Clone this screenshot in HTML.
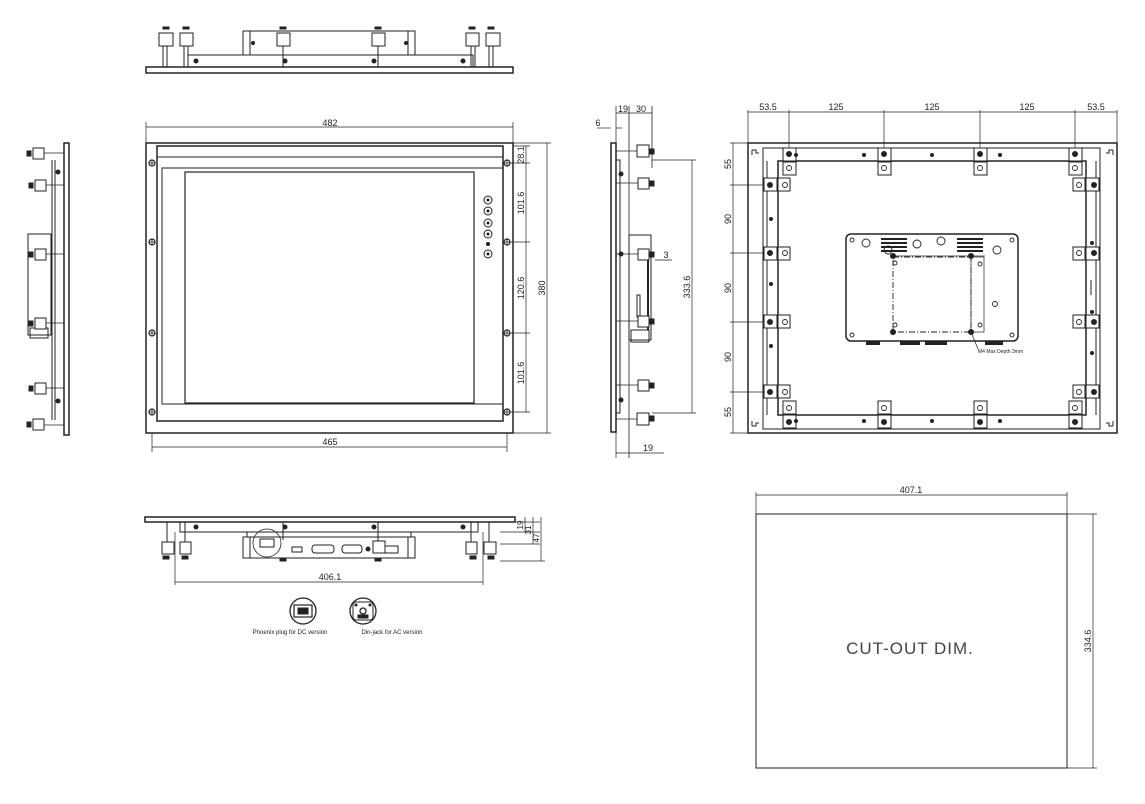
<!DOCTYPE html>
<html><head><meta charset="utf-8"><style>
html,body{margin:0;padding:0;background:#fff;}
svg{display:block;}
text{font-family:"Liberation Sans",sans-serif;font-size:9px;fill:#222;stroke:none;}
</style></head><body>
<svg width="1145" height="804" viewBox="0 0 1145 804" xmlns="http://www.w3.org/2000/svg" stroke="#222" fill="none" stroke-width="1">

<!-- ===== TOP VIEW ===== -->
<rect x="146" y="67" width="367" height="6" stroke-width="1.5"/>
<rect x="188" y="55" width="285" height="12"/>
<rect x="243" y="31" width="172" height="24"/>
<line x1="250" y1="31" x2="250" y2="55"/><line x1="408" y1="31" x2="408" y2="55"/>
<g fill="#222"><circle cx="196" cy="61" r="2"/><circle cx="285" cy="61" r="2"/><circle cx="374" cy="61" r="2"/><circle cx="463" cy="61" r="2"/><circle cx="253" cy="43" r="1.5"/><circle cx="406" cy="43" r="1.5"/></g>
<g>
<rect x="159" y="33" width="14" height="13"/><line x1="163" y1="46" x2="163" y2="67"/><line x1="167" y1="46" x2="167" y2="67"/><rect x="163" y="27" width="6" height="2" fill="#222"/>
<rect x="180" y="33" width="13" height="13"/><line x1="184" y1="46" x2="184" y2="67"/><line x1="188" y1="46" x2="188" y2="67"/><rect x="183" y="27" width="6" height="2" fill="#222"/>
<rect x="277" y="33" width="13" height="13"/><line x1="283" y1="46" x2="283" y2="67"/><rect x="280" y="27" width="6" height="2" fill="#222"/>
<rect x="372" y="33" width="13" height="13"/><line x1="378" y1="46" x2="378" y2="67"/><rect x="375" y="27" width="6" height="2" fill="#222"/>
<rect x="466" y="33" width="13" height="13"/><line x1="471" y1="46" x2="471" y2="67"/><line x1="475" y1="46" x2="475" y2="67"/><rect x="469" y="27" width="6" height="2" fill="#222"/>
<rect x="486" y="33" width="14" height="13"/><line x1="489" y1="46" x2="489" y2="67"/><line x1="493" y1="46" x2="493" y2="67"/><rect x="488" y="27" width="6" height="2" fill="#222"/>
</g>

<!-- ===== LEFT SIDE VIEW ===== -->
<rect x="64" y="143" width="5" height="292" stroke-width="1.5"/>
<line x1="52" y1="160" x2="52" y2="420"/><line x1="55" y1="160" x2="55" y2="420"/>
<rect x="28" y="234" width="23" height="101"/>
<rect x="30" y="328" width="18" height="10"/>
<g fill="#fff">
<rect x="33" y="148" width="11" height="11"/><rect x="35" y="180" width="11" height="11"/>
<rect x="35" y="249" width="11" height="11"/><rect x="35" y="318" width="11" height="11"/>
<rect x="35" y="383" width="11" height="11"/><rect x="33" y="419" width="11" height="11"/>
</g>
<g fill="#222">
<rect x="27" y="151" width="4" height="5"/><rect x="29" y="183" width="4" height="5"/><rect x="29" y="252" width="4" height="5"/><rect x="29" y="321" width="4" height="5"/><rect x="29" y="386" width="4" height="5"/><rect x="27" y="422" width="4" height="5"/>
<circle cx="58" cy="172" r="2"/><circle cx="58" cy="401" r="2"/>
</g>
<g stroke-width="0.8">
<line x1="44" y1="153" x2="64" y2="153"/><line x1="46" y1="185" x2="64" y2="185"/><line x1="46" y1="254" x2="64" y2="254"/><line x1="46" y1="323" x2="64" y2="323"/><line x1="46" y1="388" x2="64" y2="388"/><line x1="44" y1="425" x2="64" y2="425"/>
</g>

<!-- ===== FRONT VIEW ===== -->
<line x1="146" y1="122" x2="146" y2="143" stroke-width="0.7"/><line x1="513" y1="122" x2="513" y2="143" stroke-width="0.7"/>
<line x1="146" y1="127" x2="513" y2="127" stroke-width="0.7"/>
<text x="330" y="126" text-anchor="middle">482</text>
<rect x="146" y="143" width="367" height="290" stroke-width="1.5"/>
<rect x="157" y="146" width="346" height="275" stroke-width="1.5"/>
<line x1="157" y1="157" x2="503" y2="157"/>
<rect x="162" y="168" width="341" height="236"/>
<rect x="185" y="172" width="289" height="231" stroke-width="1.2"/>
<g stroke-width="1">
<circle cx="488" cy="200" r="4"/><circle cx="488" cy="211" r="4"/><circle cx="488" cy="223" r="4"/><circle cx="488" cy="234" r="4"/><circle cx="488" cy="254" r="4"/>
</g>
<g fill="#222"><circle cx="488" cy="200" r="1"/><circle cx="488" cy="211" r="1"/><circle cx="488" cy="223" r="1"/><circle cx="488" cy="234" r="1"/><circle cx="488" cy="254" r="1"/><circle cx="488" cy="244" r="1.5"/></g>
<g stroke-width="1.2">
<circle cx="152" cy="163" r="3"/><circle cx="152" cy="242" r="3"/><circle cx="152" cy="333" r="3"/><circle cx="152" cy="412" r="3"/>
<circle cx="507" cy="163" r="3"/><circle cx="507" cy="242" r="3"/><circle cx="507" cy="333" r="3"/><circle cx="507" cy="412" r="3"/>
</g>
<g stroke-width="0.8">
<path d="M149 163h6M152 160v6M149 242h6M152 239v6M149 333h6M152 330v6M149 412h6M152 409v6"/>
<path d="M504 163h6M507 160v6M504 242h6M507 239v6M504 333h6M507 330v6M504 412h6M507 409v6"/>
</g>
<g stroke-width="0.7">
<line x1="152" y1="433" x2="152" y2="452"/><line x1="507" y1="433" x2="507" y2="452"/>
<line x1="152" y1="447" x2="507" y2="447"/>
<line x1="513" y1="146" x2="530" y2="146"/><line x1="510" y1="163" x2="530" y2="163"/><line x1="510" y1="242" x2="530" y2="242"/><line x1="510" y1="333" x2="530" y2="333"/><line x1="510" y1="412" x2="530" y2="412"/>
<line x1="526" y1="146" x2="526" y2="412"/>
<line x1="513" y1="143" x2="551" y2="143"/><line x1="513" y1="433" x2="551" y2="433"/>
<line x1="547" y1="143" x2="547" y2="433"/>
</g>
<text x="330" y="445" text-anchor="middle">465</text>
<text transform="translate(524,155) rotate(-90)" text-anchor="middle">28.1</text>
<text transform="translate(524,203) rotate(-90)" text-anchor="middle">101.6</text>
<text transform="translate(524,288) rotate(-90)" text-anchor="middle">120.6</text>
<text transform="translate(524,373) rotate(-90)" text-anchor="middle">101.6</text>
<text transform="translate(545,288) rotate(-90)" text-anchor="middle">380</text>

<!-- ===== RIGHT SIDE VIEW ===== -->
<rect x="611" y="143" width="5" height="289" stroke-width="1.5"/>
<line x1="629" y1="106" x2="629" y2="458" stroke-width="0.8"/>
<line x1="616" y1="106" x2="616" y2="143" stroke-width="0.7"/>
<line x1="652" y1="106" x2="652" y2="168" stroke-width="0.8"/>
<line x1="616" y1="113" x2="652" y2="113" stroke-width="0.7"/>
<line x1="597" y1="128" x2="611" y2="128" stroke-width="0.7"/><line x1="616" y1="128" x2="622" y2="128" stroke-width="0.7"/>
<text x="623" y="112" text-anchor="middle">19</text><text x="641" y="112" text-anchor="middle">30</text><text x="598" y="126" text-anchor="middle">6</text>
<rect x="616" y="160" width="4" height="253"/>
<rect x="629" y="235" width="22" height="105"/>
<rect x="631" y="330" width="18" height="12"/>
<line x1="648" y1="260" x2="648" y2="330" stroke-width="2"/>
<rect x="637" y="295" width="3" height="22"/>
<g fill="#fff">
<rect x="637" y="145" width="12" height="12"/><rect x="638" y="178" width="11" height="11"/><rect x="638" y="249" width="11" height="11"/><rect x="638" y="316" width="11" height="11"/><rect x="638" y="380" width="11" height="11"/><rect x="637" y="413" width="12" height="12"/>
</g>
<g fill="#222">
<rect x="650" y="149" width="4" height="5"/><rect x="650" y="181" width="4" height="5"/><rect x="650" y="252" width="4" height="5"/><rect x="650" y="319" width="4" height="5"/><rect x="650" y="383" width="4" height="5"/><rect x="650" y="416" width="4" height="5"/>
<circle cx="621" cy="174" r="2"/><circle cx="621" cy="254" r="2"/><circle cx="621" cy="400" r="2"/>
</g>
<g stroke-width="0.8">
<line x1="616" y1="151" x2="637" y2="151"/><line x1="616" y1="183" x2="638" y2="183"/><line x1="616" y1="254" x2="638" y2="254"/><line x1="616" y1="321" x2="638" y2="321"/><line x1="616" y1="385" x2="638" y2="385"/><line x1="616" y1="419" x2="637" y2="419"/>
</g>
<g stroke-width="0.7">
<line x1="652" y1="160" x2="696" y2="160"/><line x1="652" y1="413" x2="696" y2="413"/>
<line x1="692" y1="160" x2="692" y2="413"/>
<line x1="655" y1="260" x2="672" y2="260"/>
<line x1="616" y1="432" x2="616" y2="458"/>
<line x1="616" y1="453" x2="664" y2="453"/>
</g>
<text x="666" y="258" text-anchor="middle">3</text>
<text transform="translate(690,287) rotate(-90)" text-anchor="middle">333.6</text>
<text x="648" y="451" text-anchor="middle">19</text>

<!-- ===== BACK VIEW ===== -->
<g stroke-width="0.7">
<line x1="748" y1="110" x2="748" y2="143"/><line x1="1117" y1="110" x2="1117" y2="143"/>
<line x1="748" y1="112" x2="1117" y2="112"/>
<line x1="789" y1="110" x2="789" y2="156"/><line x1="884" y1="110" x2="884" y2="156"/><line x1="980" y1="110" x2="980" y2="156"/><line x1="1075" y1="110" x2="1075" y2="156"/>
<line x1="730" y1="143" x2="748" y2="143"/><line x1="730" y1="433" x2="748" y2="433"/>
<line x1="730" y1="185" x2="770" y2="185"/><line x1="730" y1="253" x2="770" y2="253"/><line x1="730" y1="322" x2="770" y2="322"/><line x1="730" y1="392" x2="770" y2="392"/>
<line x1="733" y1="143" x2="733" y2="433"/>
</g>
<text x="768" y="110" text-anchor="middle">53.5</text><text x="836" y="110" text-anchor="middle">125</text><text x="932" y="110" text-anchor="middle">125</text><text x="1027" y="110" text-anchor="middle">125</text><text x="1096" y="110" text-anchor="middle">53.5</text>
<text transform="translate(731,164) rotate(-90)" text-anchor="middle">55</text>
<text transform="translate(731,219) rotate(-90)" text-anchor="middle">90</text>
<text transform="translate(731,288) rotate(-90)" text-anchor="middle">90</text>
<text transform="translate(731,357) rotate(-90)" text-anchor="middle">90</text>
<text transform="translate(731,412) rotate(-90)" text-anchor="middle">55</text>
<rect x="748" y="143" width="369" height="290" stroke-width="1.5"/>
<rect x="763" y="148" width="337" height="281"/>
<rect x="778" y="161" width="308" height="254" stroke-width="1.5"/>
<line x1="767" y1="161" x2="767" y2="415"/><line x1="1096" y1="161" x2="1096" y2="415"/>
<g stroke-width="1">
<path d="M752 150h4v3h3M752 150v5"/><path d="M1113 150h-4v3h-3M1113 150v5"/>
<path d="M752 426h4v-3h3M752 426v-5"/><path d="M1113 426h-4v-3h-3M1113 426v-5"/>
</g>
<g fill="#fff">
<rect x="783" y="148" width="13" height="13"/><rect x="783" y="162" width="13" height="13"/>
<rect x="878" y="148" width="13" height="13"/><rect x="878" y="162" width="13" height="13"/>
<rect x="974" y="148" width="13" height="13"/><rect x="974" y="162" width="13" height="13"/>
<rect x="1069" y="148" width="13" height="13"/><rect x="1069" y="162" width="13" height="13"/>
<rect x="783" y="415" width="13" height="13"/><rect x="783" y="401" width="13" height="13"/>
<rect x="878" y="415" width="13" height="13"/><rect x="878" y="401" width="13" height="13"/>
<rect x="974" y="415" width="13" height="13"/><rect x="974" y="401" width="13" height="13"/>
<rect x="1069" y="415" width="13" height="13"/><rect x="1069" y="401" width="13" height="13"/>
<rect x="764" y="178" width="13" height="13"/><rect x="778" y="178" width="12" height="13"/>
<rect x="764" y="247" width="13" height="13"/><rect x="778" y="247" width="12" height="13"/>
<rect x="764" y="315" width="13" height="13"/><rect x="778" y="315" width="12" height="13"/>
<rect x="764" y="385" width="13" height="13"/><rect x="778" y="385" width="12" height="13"/>
<rect x="1086" y="178" width="13" height="13"/><rect x="1073" y="178" width="12" height="13"/>
<rect x="1086" y="247" width="13" height="13"/><rect x="1073" y="247" width="12" height="13"/>
<rect x="1086" y="315" width="13" height="13"/><rect x="1073" y="315" width="12" height="13"/>
<rect x="1086" y="385" width="13" height="13"/><rect x="1073" y="385" width="12" height="13"/>
</g>
<g fill="#222">
<circle cx="789" cy="154" r="2.5"/><circle cx="884" cy="154" r="2.5"/><circle cx="980" cy="154" r="2.5"/><circle cx="1075" cy="154" r="2.5"/>
<circle cx="789" cy="422" r="2.5"/><circle cx="884" cy="422" r="2.5"/><circle cx="980" cy="422" r="2.5"/><circle cx="1075" cy="422" r="2.5"/>
<circle cx="770" cy="185" r="2.5"/><circle cx="770" cy="253" r="2.5"/><circle cx="770" cy="322" r="2.5"/><circle cx="770" cy="392" r="2.5"/>
<circle cx="1094" cy="185" r="2.5"/><circle cx="1094" cy="253" r="2.5"/><circle cx="1094" cy="322" r="2.5"/><circle cx="1094" cy="392" r="2.5"/>
<circle cx="796" cy="155" r="1.5"/><circle cx="864" cy="155" r="1.5"/><circle cx="932" cy="155" r="1.5"/><circle cx="1000" cy="155" r="1.5"/>
<circle cx="796" cy="421" r="1.5"/><circle cx="864" cy="421" r="1.5"/><circle cx="932" cy="421" r="1.5"/><circle cx="1000" cy="421" r="1.5"/>
<circle cx="771" cy="219" r="1.5"/><circle cx="771" cy="284" r="1.5"/><circle cx="771" cy="346" r="1.5"/>
<circle cx="1092" cy="243" r="1.5"/><circle cx="1092" cy="312" r="1.5"/><circle cx="1092" cy="353" r="1.5"/>
</g>
<g stroke-width="0.9">
<circle cx="789" cy="168" r="2.5"/><circle cx="884" cy="168" r="2.5"/><circle cx="980" cy="168" r="2.5"/><circle cx="1075" cy="168" r="2.5"/>
<circle cx="789" cy="408" r="2.5"/><circle cx="884" cy="408" r="2.5"/><circle cx="980" cy="408" r="2.5"/><circle cx="1075" cy="408" r="2.5"/>
<circle cx="785" cy="185" r="2.5"/><circle cx="785" cy="253" r="2.5"/><circle cx="785" cy="322" r="2.5"/><circle cx="785" cy="392" r="2.5"/>
<circle cx="1079" cy="185" r="2.5"/><circle cx="1079" cy="253" r="2.5"/><circle cx="1079" cy="322" r="2.5"/><circle cx="1079" cy="392" r="2.5"/>
</g>
<line x1="1091" y1="280" x2="1091" y2="295"/>
<rect x="846" y="234" width="172" height="107" rx="5" stroke-width="1.5"/>
<g stroke-width="0.9">
<circle cx="852" cy="240" r="2"/><circle cx="1012" cy="240" r="2"/><circle cx="852" cy="335" r="2"/><circle cx="1012" cy="335" r="2"/>
<circle cx="866" cy="243" r="4"/><circle cx="917" cy="244" r="4"/><circle cx="941" cy="241" r="4"/><circle cx="997" cy="250" r="4"/><circle cx="888" cy="250" r="4"/>
<circle cx="995" cy="304" r="2.5"/><circle cx="895" cy="263" r="2"/><circle cx="895" cy="325" r="2"/><circle cx="980" cy="264" r="2"/><circle cx="980" cy="325" r="2"/>
</g>
<g fill="#222" stroke="none">
<rect x="881" y="238" width="26" height="2"/><rect x="881" y="242" width="26" height="2"/><rect x="881" y="246" width="26" height="2"/><rect x="881" y="250" width="26" height="2"/>
<rect x="957" y="238" width="26" height="2"/><rect x="957" y="242" width="26" height="2"/><rect x="957" y="246" width="26" height="2"/><rect x="957" y="250" width="26" height="2"/>
<circle cx="893" cy="256" r="3"/><circle cx="971" cy="256" r="3"/><circle cx="893" cy="332" r="3"/><circle cx="971" cy="332" r="3"/>
<rect x="866" y="341" width="14" height="4"/><rect x="900" y="341" width="20" height="4"/><rect x="925" y="341" width="22" height="4"/><rect x="985" y="341" width="18" height="4"/>
</g>
<line x1="893" y1="256" x2="985" y2="256" stroke-width="0.7"/>
<rect x="893" y="257" width="78" height="75" stroke-dasharray="6,2,1,2" stroke-width="0.9"/>
<rect x="971" y="257" width="13" height="75" stroke-width="0.7"/>
<line x1="971" y1="332" x2="978" y2="349" stroke-width="0.7"/>
<text x="978" y="353" style="font-size:5px">M4 Max Depth 3mm</text>

<!-- ===== BOTTOM VIEW ===== -->
<rect x="145" y="517" width="370" height="5" stroke-width="1.5"/>
<rect x="180" y="522" width="298" height="10"/>
<rect x="243" y="537" width="172" height="21"/>
<line x1="250" y1="537" x2="250" y2="558"/><line x1="408" y1="537" x2="408" y2="558"/>
<line x1="247" y1="532" x2="247" y2="537"/><line x1="411" y1="532" x2="411" y2="537"/>
<g fill="#222"><circle cx="196" cy="527" r="2"/><circle cx="285" cy="527" r="2"/><circle cx="374" cy="527" r="2"/><circle cx="463" cy="527" r="2"/></g>
<circle cx="267" cy="543" r="14" stroke-width="0.8"/>
<rect x="260" y="539" width="14" height="8"/>
<rect x="292" y="547" width="10" height="5"/>
<rect x="312" y="545" width="22" height="8" rx="3"/>
<rect x="342" y="545" width="20" height="8" rx="3"/>
<circle cx="368" cy="549" r="2" fill="#222"/>
<rect x="384" y="546" width="14" height="7"/>
<g fill="#fff">
<rect x="162" y="542" width="12" height="12"/><rect x="180" y="542" width="11" height="12"/>
<rect x="373" y="541" width="12" height="12"/>
<rect x="466" y="542" width="11" height="12"/><rect x="484" y="542" width="12" height="12"/>
</g>
<g>
<line x1="167" y1="522" x2="167" y2="542"/><line x1="185" y1="522" x2="185" y2="542"/><line x1="283" y1="522" x2="283" y2="540"/><line x1="378" y1="522" x2="378" y2="541"/><line x1="471" y1="522" x2="471" y2="542"/><line x1="489" y1="522" x2="489" y2="542"/>
</g>
<g fill="#222">
<rect x="163" y="556" width="6" height="3"/><rect x="182" y="556" width="6" height="3"/><rect x="280" y="558" width="6" height="3"/><rect x="375" y="558" width="6" height="3"/><rect x="470" y="556" width="6" height="3"/><rect x="488" y="556" width="6" height="3"/>
</g>
<g stroke-width="0.7">
<line x1="175" y1="532" x2="175" y2="585"/><line x1="483" y1="532" x2="483" y2="585"/>
<line x1="175" y1="582" x2="483" y2="582"/>
<line x1="515" y1="522" x2="540" y2="522"/><line x1="500" y1="532" x2="540" y2="532"/><line x1="500" y1="544" x2="540" y2="544"/><line x1="500" y1="561" x2="545" y2="561"/>
<line x1="525" y1="517" x2="525" y2="532"/><line x1="533" y1="517" x2="533" y2="544"/><line x1="541" y1="517" x2="541" y2="561"/>
</g>
<text x="330" y="580" text-anchor="middle">406.1</text>
<text transform="translate(523,525) rotate(-90)" text-anchor="middle" style="font-size:8px">19</text>
<text transform="translate(531,530) rotate(-90)" text-anchor="middle" style="font-size:8px">31</text>
<text transform="translate(539,538) rotate(-90)" text-anchor="middle" style="font-size:8px">47</text>
<circle cx="303" cy="611" r="13" stroke-width="1.3"/>
<rect x="294" y="605" width="18" height="12" stroke-width="1.2"/><rect x="298" y="608" width="10" height="6" fill="#222"/>
<circle cx="363" cy="611" r="13" stroke-width="1.3"/>
<rect x="353" y="602" width="20" height="18" rx="3"/>
<circle cx="363" cy="611" r="3" stroke-width="1.3"/><rect x="358" y="615" width="10" height="3" fill="#222"/>
<circle cx="356" cy="605" r="1" fill="#222"/><circle cx="370" cy="605" r="1" fill="#222"/>
<text x="290" y="634" text-anchor="middle" style="font-size:6px">Phoenix plug for DC version</text>
<text x="392" y="634" text-anchor="middle" style="font-size:6px">Din-jack for AC version</text>

<!-- ===== CUT-OUT ===== -->
<rect x="756" y="514" width="311" height="254"/>
<g stroke-width="0.7">
<line x1="756" y1="492" x2="756" y2="514"/><line x1="1067" y1="492" x2="1067" y2="514"/>
<line x1="756" y1="495" x2="1067" y2="495"/>
<line x1="1067" y1="514" x2="1097" y2="514"/><line x1="1067" y1="768" x2="1097" y2="768"/>
<line x1="1093" y1="514" x2="1093" y2="768"/>
</g>
<text x="911" y="493" text-anchor="middle">407.1</text>
<text transform="translate(1091,641) rotate(-90)" text-anchor="middle">334.6</text>
<text x="910" y="654" text-anchor="middle" style="font-size:17px;fill:#444;letter-spacing:1px;font-weight:normal">CUT-OUT  DIM.</text>
</svg>
</body></html>
